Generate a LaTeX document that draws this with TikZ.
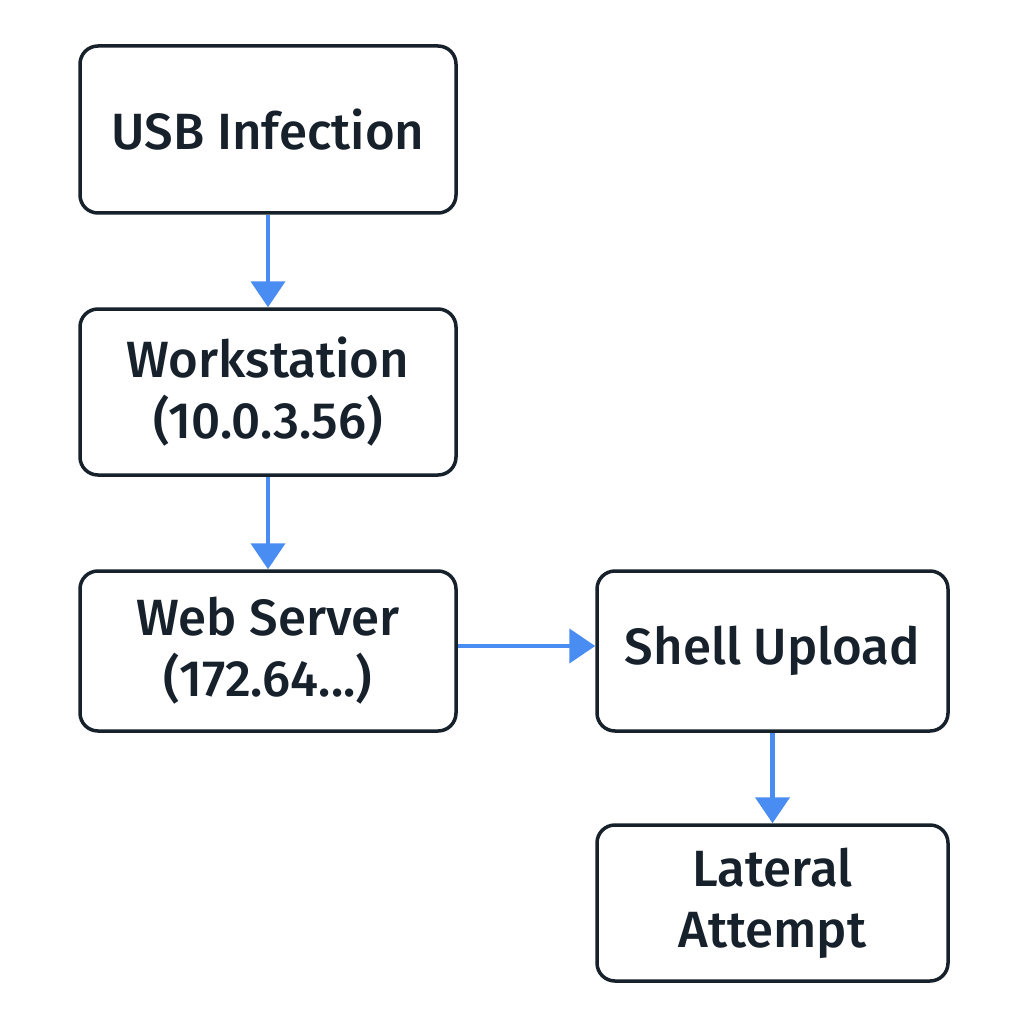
\documentclass[tikz,border=0pt]{standalone}
\usepackage{fontspec}
\setmainfont{Fira Sans}[BoldFont={Fira Sans Medium}]
\usetikzlibrary{arrows.meta}
\definecolor{boxline}{HTML}{17212B}
\definecolor{arrowblue}{HTML}{4A8DF2}
\definecolor{txt}{HTML}{17212B}
\tikzset{
  box/.style={draw=boxline, line width=3.5pt, rounded corners=18pt, fill=white,
    minimum width=#1, text=txt, align=center, font=\fontsize{51}{61}\selectfont\bfseries},
  flow/.style={draw=arrowblue, line width=4.5pt,
    -{Triangle[length=26pt,width=34pt]}, shorten >=0pt},
}
\begin{document}
\begin{tikzpicture}[x=1pt,y=-1pt]
\useasboundingbox (0,0) rectangle (1024,1024);
\fill[white] (0,0) rectangle (1024,1024);
\node[box=376pt, minimum height=167pt] (usb) at (268,129.5) {USB Infection};
\node[box=376pt, minimum height=166pt] (ws) at (268,392) {Workstation\\(10.0.3.56)};
\node[box=376pt, minimum height=160pt] (web) at (268,651) {Web Server\\(172.64...)};
\node[box=351pt, minimum height=160pt] (shell) at (772.5,651) {Shell Upload};
\node[box=351pt, minimum height=156pt] (lat) at (772.5,903) {Lateral\\Attempt};
\draw[flow] (usb) -- (ws);
\draw[flow] (ws) -- (web);
\draw[flow] ([yshift=5pt]web.east) -- ([yshift=5pt]shell.west);
\draw[flow] (shell) -- (lat);
\end{tikzpicture}
\end{document}
